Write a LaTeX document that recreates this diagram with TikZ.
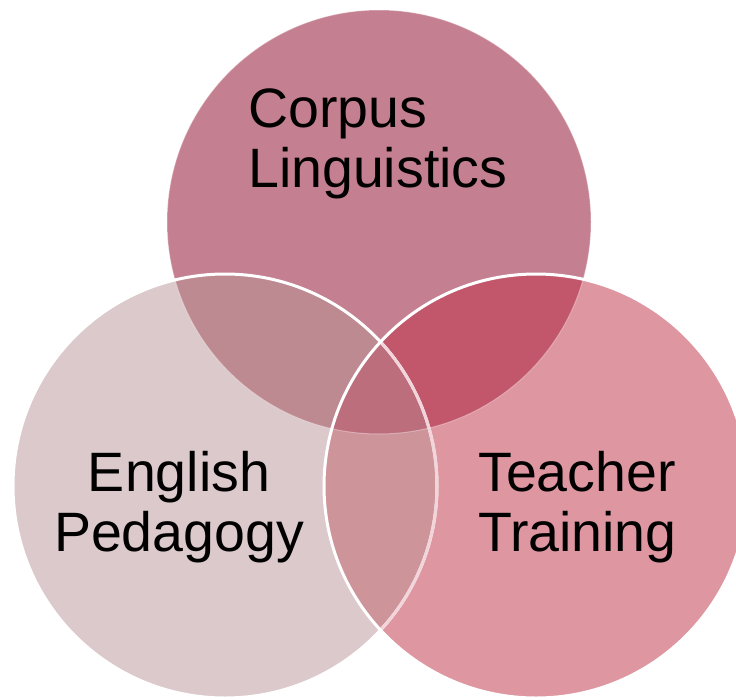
\documentclass[tikz,border=0pt]{standalone}
\usepackage{fontspec}
\setmainfont{Liberation Sans}
\usetikzlibrary{positioning}
\definecolor{corpusfill}{HTML}{C48090}
\definecolor{englishfill}{HTML}{DCC9CB}
\definecolor{teacherfill}{HTML}{DE97A1}
\definecolor{cefill}{HTML}{BE8A92}
\definecolor{ctfill}{HTML}{C2576C}
\definecolor{etfill}{HTML}{CD949A}
\definecolor{allfill}{HTML}{BC6E7D}
\newcommand{\rad}{212}

\begin{document}
\begin{tikzpicture}[x=1pt, y=-1pt,
                    rim/.style={white, line width=3pt},
                    lbl/.style={inner sep=0pt, font=\fontsize{55.5}{59.5}\selectfont}]

                \useasboundingbox (0,0) rectangle (736,699);
                \clip (0,0) rectangle (736,699);

                \coordinate (corpus) at (379,222);
                \coordinate (english) at (225,486);
                \coordinate (teacher) at (536,486);

                % plain discs
                \fill[corpusfill] (corpus) circle (\rad);
                \fill[englishfill] (english) circle (\rad);
                \fill[teacherfill] (teacher) circle (\rad);

                % overlaps
                \begin{scope}
                    \clip (english) circle (\rad);
                    \fill[cefill] (corpus) circle (\rad);
                \end{scope}
                \begin{scope}
                    \clip (teacher) circle (\rad);
                    \fill[ctfill] (corpus) circle (\rad);
                    \fill[etfill] (english) circle (\rad);
                \end{scope}
                \begin{scope}
                    \clip (corpus) circle (\rad);
                    \clip (english) circle (\rad);
                    \fill[allfill] (teacher) circle (\rad);
                \end{scope}

                % borders
                \draw[white, opacity=0.35, line width=1pt] (corpus) circle (\rad);
                \draw[rim] (english) circle (\rad);
                \begin{scope}
                    \clip (teacher) circle (\rad);
                    \draw[teacherfill!40!white, line width=3pt] (english) circle (\rad);
                \end{scope}
                \draw[rim] (teacher) circle (\rad);

                \node[lbl, align=left, anchor=base west] (corpuslbl) at (248,187)
                    {Corpus\\Linguistics};
                \node[lbl, align=center, anchor=base] (englishlbl) at (179,551)
                    {English\\Pedagogy};
                \node[lbl, align=left, anchor=base west] (teacherlbl) at (478,551)
                    {Teacher\\Training};

            \end{tikzpicture}
\end{document}
